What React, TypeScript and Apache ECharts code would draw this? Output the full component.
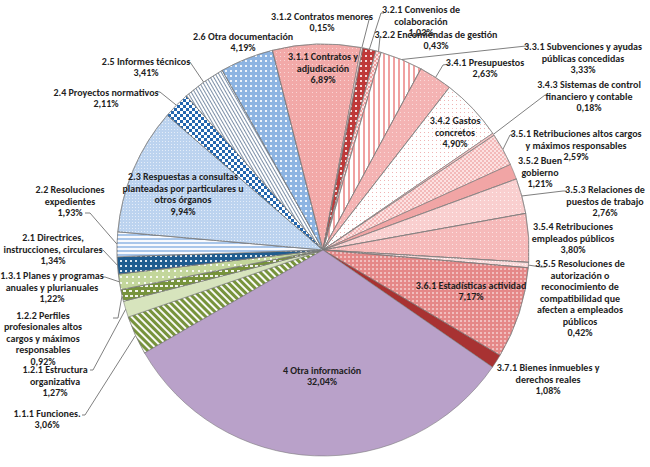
import React, { useEffect, useRef } from "react";
import * as echarts from "echarts";

// Categories in the order they are drawn (clockwise), values in %
const CATEGORIES: string[] = [
  "1.1.1 Funciones.",
  "1.2.1 Estructura\norganizativa",
  "1.2.2 Perfiles\nprofesionales altos\ncargos y máximos\nresponsables",
  "1.3.1 Planes y programas\nanuales y plurianuales",
  "2.1 Directrices,\ninstrucciones, circulares",
  "2.2 Resoluciones\nexpedientes",
  "2.3 Respuestas a consultas\nplanteadas por particulares u\notros órganos",
  "2.4 Proyectos normativos",
  "2.5 Informes técnicos",
  "2.6 Otra documentación",
  "3.1.1 Contratos y\nadjudicación",
  "3.1.2 Contratos menores",
  "3.2.1 Convenios de\ncolaboración",
  "3.2.2 Encomiendas de gestión",
  "3.3.1 Subvenciones y ayudas\npúblicas concedidas",
  "3.4.1 Presupuestos",
  "3.4.2 Gastos\nconcretos",
  "3.4.3 Sistemas de control\nfinanciero y contable",
  "3.5.1 Retribuciones altos cargos\ny máximos responsables",
  "3.5.2 Buen\ngobierno",
  "3.5.3 Relaciones de\npuestos de trabajo",
  "3.5.4 Retribuciones\nempleados públicos",
  "3.5.5 Resoluciones de\nautorización o\nreconocimiento de\ncompatibilidad que\nafecten a empleados\npúblicos",
  "3.6.1 Estadísticas actividad",
  "3.7.1 Bienes inmuebles y\nderechos reales",
  "4 Otra información",
];

const VALUES: number[] = [
  3.06, 1.27, 0.92, 1.22, 1.34, 1.93, 9.94, 2.11, 3.41, 4.19, 6.89, 0.15, 1.03,
  0.43, 3.33, 2.63, 4.9, 0.18, 2.59, 1.21, 2.76, 3.8, 0.42, 7.17, 1.08, 32.04,
];

// label placement: "in" inside the slice, "out" outside with leader line, "free" outside without line
const LABEL_MODE: string[] = [
  "out", "out", "out", "out", "out", "out", "in", "out", "out", "free",
  "in", "out", "out", "out", "out", "out", "in", "out", "out", "free",
  "out", "free", "out", "in", "free", "in",
];

// label block centres (layout)
const LABEL_POS: number[][] = [
  [47, 419], [55, 381], [43, 338], [52, 287], [53, 249], [70, 201], [183, 194],
  [106, 98], [146, 67], [243, 42], [323, 68], [322, 22], [421, 21], [436, 40],
  [583, 58], [485, 68], [455, 132], [589, 96], [576, 145], [540, 172],
  [605, 201], [573, 238], [580, 298], [471, 291], [548, 379], [322, 376],
];

// leader line: [elbow, end] (layout)
const LINE_PTS: (number[][] | null)[] = [
  [[85, 415], [82, 415]],
  [[93, 370], [90, 370]],
  [[118, 318], [113, 318]],
  [[105, 277], [102, 277]],
  [[103, 250], [100, 250]],
  [[90, 213], [85, 213]],
  null,
  [[160, 92], [157, 92]],
  [[190, 62], [187, 62]],
  null,
  null,
  [[370, 16], [369, 16]],
  [[381, 13], [384, 13]],
  [[380, 37], [381, 36]],
  [[526, 46], [529, 46]],
  [[443, 65], [449, 64]],
  null,
  [[545, 95], [547, 95]],
  [[510, 135], [514, 134]],
  null,
  [[563, 191], [567, 191]],
  null,
  [[541, 267], [546, 267]],
  null,
  null,
  null,
];

const dots = (color: string, s = 1.5, g = 2.5) => ({
  symbol: "rect",
  symbolSize: 1,
  color,
  dashArrayX: [s, g],
  dashArrayY: [s, g],
});
const stripes = (color: string, rotation: number, w = 2, g = 2) => ({
  symbol: "rect",
  symbolSize: 1,
  color,
  dashArrayX: [1, 0],
  dashArrayY: [w, g],
  rotation,
});
const checker = (color: string, s = 3) => ({
  symbol: "rect",
  symbolSize: 1,
  color,
  dashArrayX: [[s, s], [0, s, s, 0]],
  dashArrayY: [s, 0],
});

const STYLES: { color: string; decal?: any }[] = [
  { color: "#77933c", decal: stripes("rgba(255,255,255,0.95)", Math.PI / 4, 2, 2.5) },
  { color: "#d7e4bd" },
  { color: "#77933c", decal: { symbol: "rect", symbolSize: 1, color: "rgba(255,255,255,0.9)", dashArrayX: [[3, 2], [0, 2.5, 3, 0]], dashArrayY: [1.2, 2.5] } },
  { color: "#c3d69b", decal: dots("rgba(255,255,255,0.85)", 1.3, 3.5) },
  { color: "#1f5c8f", decal: dots("rgba(255,255,255,0.85)", 1.3, 2.7) },
  { color: "#a9c6ea", decal: stripes("rgba(255,255,255,0.9)", 0, 1.2, 1.8) },
  { color: "#bcd3ef", decal: dots("rgba(255,255,255,0.6)", 1, 1.6) },
  { color: "#2466ae", decal: checker("#ffffff", 2.6) },
  { color: "#ffffff", decal: stripes("#7d90a8", Math.PI / 3, 1, 2) },
  { color: "#8db4e2", decal: dots("rgba(255,255,255,0.85)", 1.3, 3) },
  { color: "#f2a9a8", decal: dots("rgba(255,255,255,0.5)", 1, 3) },
  { color: "#f7d3d3" },
  { color: "#bf3939", decal: dots("rgba(255,255,255,0.8)", 1.2, 2.5) },
  { color: "#fbe3e3", decal: checker("#eea0a0", 1.5) },
  { color: "#ffffff", decal: stripes("#f0a1a1", Math.PI / 2, 1.2, 2.6) },
  { color: "#f4b3b3", decal: dots("rgba(255,255,255,0.5)", 1, 3) },
  { color: "#ffffff", decal: dots("#f0b4b4", 1, 3) },
  { color: "#f5c4c4" },
  { color: "#fce1e1", decal: checker("#f3b9b9", 1.5) },
  { color: "#f1a5a5" },
  { color: "#f9cfcf", decal: dots("rgba(255,255,255,0.7)", 1, 2.5) },
  { color: "#f6baba", decal: dots("rgba(255,255,255,0.6)", 1, 2.5) },
  { color: "#f9dada", decal: dots("rgba(255,255,255,0.8)", 1, 2) },
  { color: "#e58888", decal: dots("rgba(255,255,255,0.45)", 1.2, 2) },
  { color: "#a83232" },
  { color: "#b9a1c9" },
];

const fmt = (v: number) => v.toFixed(2).replace(".", ",") + "%";

export default function App() {
  const ref = useRef<HTMLDivElement>(null);
  useEffect(() => {
    if (!ref.current) return;
    const chart = echarts.init(ref.current, undefined, { renderer: "svg" });
    const data = CATEGORIES.map((name, i) => {
      const mode = LABEL_MODE[i];
      return {
        name,
        value: VALUES[i],
        itemStyle: { color: STYLES[i].color, decal: STYLES[i].decal },
        label: { position: mode === "in" ? "inside" : "outside" },
        labelLine: { show: mode === "out" },
      };
    });
    chart.setOption({
      animation: false,
      backgroundColor: "#ffffff",
      series: [
        {
          type: "pie",
          center: [323, 250],
          radius: 206,
          startAngle: 210,
          clockwise: true,
          avoidLabelOverlap: false,
          emphasis: { disabled: true },
          itemStyle: { borderColor: "rgba(120,120,120,0.7)", borderWidth: 0.8 },
          label: {
            show: true,
            formatter: (p: any) => `${p.name}\n${fmt(p.value)}`,
            fontFamily: "Carlito, Calibri, Lato, sans-serif",
            fontSize: 10,
            fontWeight: "bold",
            lineHeight: 11.5,
            color: "#1f1f1f",
            align: "center",
          },
          labelLine: {
            lineStyle: { color: "#808080", width: 1 },
          },
          labelLayout: (params: any) => {
            const i = params.dataIndex;
            const [x, y] = LABEL_POS[i];
            const res: any = { x, y, align: "center", verticalAlign: "middle" };
            const ln = LINE_PTS[i];
            if (ln && params.labelLinePoints) {
              res.labelLinePoints = [params.labelLinePoints[0], ln[0], ln[1]];
            }
            return res;
          },
          data,
        },
      ],
    });
    return () => chart.dispose();
  }, []);
  return (
    <div
      ref={ref}
      style={{ position: "fixed", left: 0, top: 0, width: 650, height: 467 }}
    />
  );
}
